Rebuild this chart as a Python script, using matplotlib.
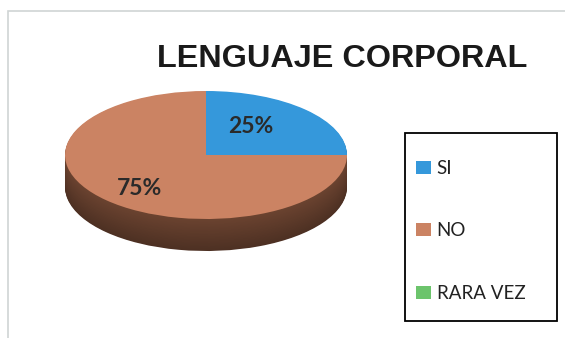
import numpy as np
import matplotlib.pyplot as plt
from matplotlib.colors import to_rgb
from matplotlib.patches import Rectangle

# Datos de la gráfica
categorias = ['SI', 'NO', 'RARA VEZ']
porcentajes = [25, 75, 0]
colores = ['#3598DB', '#CB8363', '#6CC46C']
colores_lado = ['#1F5F8C', '#6B4330', '#3C7A3C']

titulo = 'LENGUAJE CORPORAL'

# Figura de 565x338 px
fig = plt.figure(figsize=(5.65, 3.38), dpi=100)
fig.patch.set_facecolor('white')

# Marco del gráfico (líneas grises arriba e izquierda)
fig.patches.append(Rectangle((7.5 / 565, -0.1), 1.2, 1 - 10.5 / 338 + 0.1,
                             transform=fig.transFigure, fill=False,
                             edgecolor='#D0D4D4', linewidth=1.2))

# Ejes que cubren toda la figura; el círculo unitario queda como elipse
ax = fig.add_axes([0, 0, 1, 1])
cx, cy, rx, ry = 206, 155, 141, 64

# Espesor del pastel (capas apiladas, más oscuras hacia abajo)
grosor = 32 / ry
n_capas = 40
for k in range(n_capas, 0, -1):
    dy = -grosor * k / n_capas
    f = 0.72 + 0.28 * (1 - k / n_capas)
    cols = [tuple(np.clip(np.array(to_rgb(c)) * f, 0, 1)) for c in colores_lado]
    ax.pie(porcentajes, colors=cols, startangle=90, counterclock=False,
           center=(0, dy), radius=1, frame=True,
           wedgeprops=dict(linewidth=0))


def etiqueta(p):
    return '' if p < 0.5 else '{:.0f}%'.format(p)


wedges, textos, autotextos = ax.pie(
    porcentajes, colors=colores, startangle=90, counterclock=False,
    radius=1, frame=True, autopct=etiqueta, pctdistance=0.58,
    wedgeprops=dict(linewidth=0),
    textprops=dict(fontsize=16.5, fontweight='bold', color='#2A2A2A',
                   family='Lato'))

# Posición de las etiquetas de porcentaje sobre la cara superior
autotextos[0].set_position((0.32, 0.45))
autotextos[1].set_position((-0.47, -0.52))

ax.set_aspect('auto')
ax.set_xlim(-cx / rx, (565 - cx) / rx)
ax.set_ylim((cy - 338) / ry, cy / ry)
ax.set_axis_off()

# Título
fig.text(342 / 565, 1 - 59 / 338, titulo, ha='center', va='center',
         fontsize=23.3, fontweight='bold', family='Liberation Sans',
         color='#1A1A1A')

# Leyenda con marco propio
fig.patches.append(Rectangle((405 / 565, 1 - 321 / 338), 152 / 565, 188 / 338,
                             transform=fig.transFigure, fill=False,
                             edgecolor='black', linewidth=1.3))
leg = fig.legend(wedges, categorias, loc='upper left',
                 bbox_to_anchor=(416 / 565, 1 - 160 / 338),
                 borderaxespad=0, frameon=False,
                 prop=dict(family='Lato', size=13.5), labelspacing=2.42,
                 borderpad=0, handlelength=0.8, handleheight=0.7,
                 handletextpad=0.3)
for t in leg.get_texts():
    t.set_color('#222222')

fig.savefig('out.png', dpi=100, facecolor='white')
